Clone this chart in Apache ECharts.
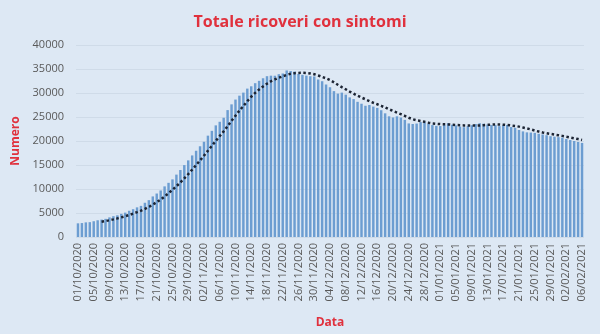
<!DOCTYPE html>
<html>
<head>
<meta charset="utf-8">
<script src="https://cdn.jsdelivr.net/npm/echarts@6/dist/echarts.min.js"></script>
<style>
html,body{margin:0;padding:0;background:#dde8f4;}
#c{width:600px;height:334px;}
</style>
</head>
<body>
<div id="c"></div>
<script>
const oct = [2846,2906,3047,3093,3287,3487,3625,3782,4086,4336,4519,4821,5076,5470,5796,6178,6484,7131,7676,8454,9057,9694,10549,11287,12006,12997,13955,14981,15964,16994,17966];
const nov = [18902,19840,21114,22116,23256,24005,24843,26440,27636,28633,29444,30081,30914,31398,32047,32536,33074,33504,33610,33598,33914,34063,34697,34577,34469,33959,33787,33618,33497,33443];
const dec = [32811,32454,31772,31200,30391,29873,30081,29653,29088,28727,28161,27765,27342,27497,27170,26897,26410,25764,25145,24903,25145,24892,24408,23662,23545,23632,23934,23932,23566,23317,23151];
const jan = [23112,23395,23712,23395,23250,23000,22870,23090,23290,23522,23712,23600,23435,23317,23300,23100,23269,23330,22900,22748,22300,22000,21800,21758,21700,21500,21355,21200,21000,20900,20800];
const feb = [20700,20400,20200,20000,19800,19600];
const values = [].concat(oct, nov, dec, jan, feb);

const monthDefs = [['10','2020',31],['11','2020',30],['12','2020',31],['01','2021',31],['02','2021',6]];
const categories = [];
monthDefs.forEach(function(m){
  for (let d = 1; d <= m[2]; d++) categories.push((d < 10 ? '0' + d : '' + d) + '/' + m[0] + '/' + m[1]);
});

const period = 7;
const trend = values.map(function(v, i){
  if (i < period - 1) return null;
  let s = 0;
  for (let k = i - period + 1; k <= i; k++) s += values[k];
  return s / period;
});

const chart = echarts.init(document.getElementById('c'));
chart.setOption({
  backgroundColor: '#dde8f4',
  animation: false,
  title: {
    text: 'Totale ricoveri con sintomi',
    left: 'center',
    top: 9,
    textStyle: {color: '#e0313d', fontSize: 16, fontWeight: 'bold', fontFamily: 'Open Sans'}
  },
  grid: {left: 76, right: 16, top: 45, bottom: 89},
  xAxis: {
    type: 'category',
    data: categories,
    boundaryGap: true,
    axisLine: {show: false},
    axisTick: {show: false},
    axisLabel: {interval: 3, rotate: 90, color: '#595959', fontSize: 11, fontFamily: 'Open Sans', margin: 6},
    name: 'Data',
    nameLocation: 'middle',
    nameGap: 80,
    nameTextStyle: {color: '#e0313d', fontWeight: 'bold', fontSize: 12, fontFamily: 'Open Sans'}
  },
  yAxis: {
    type: 'value',
    min: 0,
    max: 40000,
    interval: 5000,
    axisLine: {show: false},
    axisTick: {show: false},
    splitLine: {lineStyle: {color: '#cfdbe8', width: 1}},
    axisLabel: {color: '#595959', fontSize: 11, fontFamily: 'Open Sans', margin: 12, formatter: function(v){ return String(v); }},
    name: 'Numero',
    nameLocation: 'middle',
    nameRotate: 90,
    nameGap: 54,
    nameTextStyle: {color: '#e0313d', fontWeight: 'bold', fontSize: 12, fontFamily: 'Open Sans'}
  },
  series: [
    {
      type: 'bar',
      data: values,
      barWidth: '62%',
      itemStyle: {color: '#6c9dd1'}
    },
    {
      type: 'line',
      data: trend,
      symbol: 'none',
      connectNulls: false,
      lineStyle: {type: 'dotted', width: 2.5, color: '#1c2433'},
      z: 5
    }
  ]
});
</script>
</body>
</html>
